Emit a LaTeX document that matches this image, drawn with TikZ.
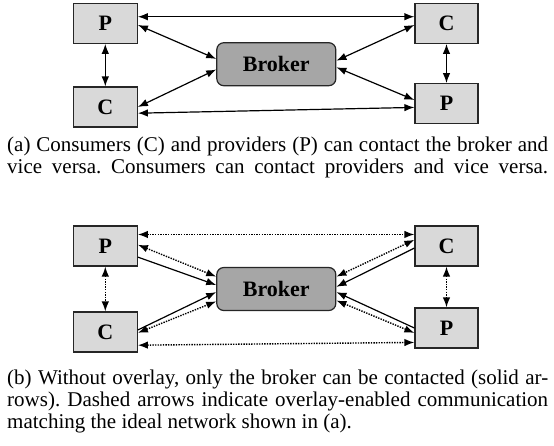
\documentclass[tikz,border=0pt]{standalone}
\usepackage{fontspec}
\setmainfont{Liberation Serif}
\usetikzlibrary{arrows.meta,calc}
\definecolor{boxgray}{RGB}{217,217,217}
\definecolor{brokergray}{RGB}{166,166,166}
\begin{document}
\frenchspacing
\begin{tikzpicture}[x=1pt,y=-1pt,
  box/.style={draw=black!85,line width=1.2pt,fill=boxgray,minimum width=64pt,minimum height=40pt,inner sep=0pt,font=\fontsize{22}{26}\selectfont\bfseries},
  brokerbox/.style={box,fill=brokergray,rounded corners=7pt,minimum width=119pt,minimum height=43pt},
  tip/.tip={Latex[length=10pt,width=7.5pt]},
  link/.style={line width=1.2pt,tip-tip},
  onelink/.style={line width=1.2pt,-tip},
  dotlink/.style={line width=1.4pt,tip-tip,dash pattern=on 1.4pt off 1.2pt},
  caption/.style={anchor=north west,text width=541pt,align=justify,inner sep=0pt,font=\fontsize{21}{21.7}\selectfont}
]
\useasboundingbox (0,0) rectangle (554,445);
% ---------- (a) ----------
\node[box] (pA) at (105.3,23.3) {P};
\node[box] (cA) at (105.3,107) {C};
\node[brokerbox] (bA) at (276.3,64.2) {Broker};
\node[box,minimum width=63pt] (cA2) at (446.5,23.3) {C};
\node[box,minimum width=63pt] (pA2) at (446.5,103.7) {P};

\draw[link] ($(pA.north east)!0.34!(pA.south east)$) -- ($(cA2.north west)!0.34!(cA2.south west)$);
\draw[link] ($(cA.north east)!0.65!(cA.south east)$) -- ($(pA2.north west)!0.59!(pA2.south west)$);
\draw[link] ($(pA.north east)!0.54!(pA.south east)$) -- ($(bA.north west)!0.38!(bA.south west)$);
\draw[link] ($(cA.north east)!0.5!(cA.south east)$) -- ($(bA.north west)!0.62!(bA.south west)$);
\draw[link] ($(bA.north east)!0.42!(bA.south east)$) -- ($(cA2.north west)!0.54!(cA2.south west)$);
\draw[link] ($(bA.north east)!0.57!(bA.south east)$) -- ($(pA2.north west)!0.41!(pA2.south west)$);
\draw[link] (pA.south) -- (cA.north);
\draw[link] (cA2.south) -- (pA2.north);

\node[caption] (capA) at (7,137) {\parfillskip=0pt (a) Consumers (C) and providers (P) can contact the broker and\linebreak vice versa. Consumers can contact providers and vice versa.\par};

% ---------- (b) ----------
\node[box] (pB) at (105.3,246) {P};
\node[box] (cB) at (105.3,332) {C};
\node[brokerbox] (bB) at (276.3,289) {Broker};
\node[box,minimum width=63pt] (cB2) at (446.5,246) {C};
\node[box,minimum width=63pt] (pB2) at (446.5,328) {P};

\draw[dotlink] ($(pB.north east)!0.22!(pB.south east)$) -- ($(cB2.north west)!0.22!(cB2.south west)$);
\draw[dotlink] ($(cB.north east)!0.82!(cB.south east)$) -- ($(pB2.north west)!0.85!(pB2.south west)$);
\draw[dotlink] (pB.south) -- (cB.north);
\draw[dotlink] (cB2.south) -- (pB2.north);

\draw[dotlink] ($(pB.north east)!0.47!(pB.south east)$) -- ($(bB.north west)!0.22!(bB.south west)$);
\draw[onelink] ($(pB.north east)!0.77!(pB.south east)$) -- ($(bB.north west)!0.41!(bB.south west)$);
\draw[onelink] ($(cB.north east)!0.45!(cB.south east)$) -- ($(bB.north west)!0.57!(bB.south west)$);
\draw[dotlink] ($(cB.north east)!0.52!(cB.south east)$) -- ($(bB.north west)!0.78!(bB.south west)$);

\draw[dotlink] ($(cB2.north west)!0.35!(cB2.south west)$) -- ($(bB.north east)!0.22!(bB.south east)$);
\draw[onelink] ($(cB2.north west)!0.55!(cB2.south west)$) -- ($(bB.north east)!0.45!(bB.south east)$);
\draw[onelink] ($(pB2.north west)!0.5!(pB2.south west)$) -- ($(bB.north east)!0.57!(bB.south east)$);
\draw[dotlink] ($(pB2.north west)!0.62!(pB2.south west)$) -- ($(bB.north east)!0.76!(bB.south east)$);

\node[caption] (capB) at (7,370) {(b) Without overlay, only the broker can be contacted (solid ar-\linebreak rows). Dashed arrows indicate overlay-enabled communication\linebreak matching the ideal network shown in (a).};
\end{tikzpicture}
\end{document}
